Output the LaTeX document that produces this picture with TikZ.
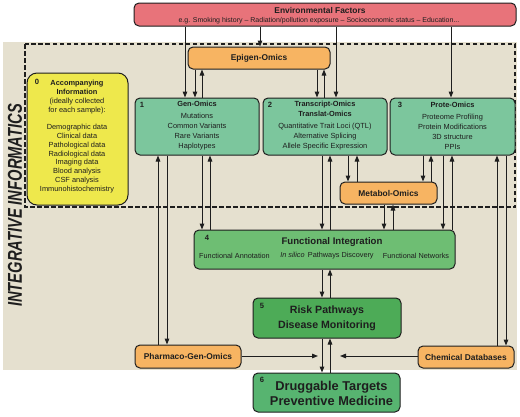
\documentclass[tikz,border=0pt]{standalone}
\usepackage{fontspec}
\setmainfont{Liberation Sans}
\usetikzlibrary{arrows.meta}
\definecolor{envred}{HTML}{E8737A}
\definecolor{bgbeige}{HTML}{E5E0CF}
\definecolor{orangebox}{HTML}{F7B462}
\definecolor{yellowbox}{HTML}{EEE84C}
\definecolor{mintbox}{HTML}{7CC69D}
\definecolor{funcgreen}{HTML}{6EBE73}
\definecolor{riskgreen}{HTML}{4DAB57}
\definecolor{druggreen}{HTML}{57B470}
\definecolor{ink}{HTML}{1E1E1E}
\begin{document}
\begin{tikzpicture}[x=1pt,y=-1pt,
 box/.style={draw=ink, line width=1pt, rounded corners=5pt, inner sep=0pt},
 obox/.style={box, fill=orangebox, font=\fontsize{8.4}{10}\selectfont\bfseries, text=ink},
 gbox/.style={box, fill=mintbox},
 lbl/.style={inner sep=0pt, text=ink, align=center},
 num/.style={inner sep=0pt, text=ink, font=\fontsize{7.6}{9}\selectfont\bfseries},
 arr/.style={draw=ink, line width=1pt, -{Triangle[length=6pt,width=4.6pt]}},
 dashedframe/.style={draw=ink, line width=1.1pt, dash pattern=on 4.5pt off 2.5pt}
]
\useasboundingbox (0,0) rectangle (520,416);
\fill[bgbeige] (3,42) rectangle (517,370);
\draw[dashedframe] (25,44) rectangle (515,207);

% rotated title
\node[inner sep=0pt, rotate=90, text=ink] (integ) at (15,205.5)
  {\scalebox{0.735}[1]{\fontsize{20}{20}\selectfont\bfseries\itshape INTEGRATIVE INFORMATICS}};

% environmental factors
\node[box, fill=envred, minimum width=382pt, minimum height=23pt] (env) at (325,14.5) {};
\node[lbl, font=\fontsize{8.4}{10}\selectfont\bfseries] (envt) at (320,10.5) {Environmental Factors};
\node[lbl, font=\fontsize{7}{9}\selectfont] (envs) at (319,20.5)
  {e.g. Smoking history -- Radiation/pollution exposure -- Socioeconomic status -- Education...};

% orange boxes
\node[obox, minimum width=142pt, minimum height=22pt] (epi) at (259,58) {Epigen-Omics};
\node[obox, minimum width=97pt, minimum height=22pt] (met) at (388.5,193) {Metabol-Omics};
\node[obox, minimum width=106pt, minimum height=23pt] (pha) at (188,356.5) {Pharmaco-Gen-Omics};
\node[obox, minimum width=96pt, minimum height=22pt] (che) at (466,357) {Chemical Databases};

% box 0
\node[box, rounded corners=10pt, fill=yellowbox, minimum width=101pt, minimum height=132pt] (acc) at (77.5,139) {};
\node[num] (acc0) at (37,82) {0};
\node[lbl, font=\fontsize{7.4}{8.8}\selectfont] (acct) at (77,136.5)
  {\textbf{Accompanying}\\\textbf{Information}\\(ideally collected\\for each sample):\\[8.8pt]
   Demographic data\\Clinical data\\Pathological data\\Radiological data\\Imaging data\\Blood analysis\\CSF analysis\\Immunohistochemistry};

% boxes 1-3
\node[gbox, minimum width=124pt, minimum height=57pt] (gen) at (197,126.5) {};
\node[num] (gen1) at (142,105) {1};
\node[lbl, font=\fontsize{7.4}{10}\selectfont] (gent) at (197,126)
  {\textbf{Gen-Omics}\\[2pt]Mutations\\Common Variants\\Rare Variants\\Haplotypes};

\node[gbox, minimum width=124pt, minimum height=57pt] (tra) at (325,126.5) {};
\node[num] (tra2) at (270,105) {2};
\node[lbl, font=\fontsize{7.4}{10}\selectfont] (trat) at (325,126)
  {\textbf{Transcript-Omics}\\\textbf{Translat-Omics}\\[2pt]Quantitative Trait Loci (QTL)\\Alternative Splicing\\Allele Specific Expression};

\node[gbox, minimum width=125pt, minimum height=57pt] (pro) at (452.5,126.5) {};
\node[num] (pro3) at (400,105) {3};
\node[lbl, font=\fontsize{7.4}{10}\selectfont] (prot) at (452.5,126)
  {\textbf{Prote-Omics}\\[2pt]Proteome Profiling\\Protein Modifications\\3D structure\\PPIs};

% box 4
\node[box, fill=funcgreen, minimum width=261pt, minimum height=39pt] (fun) at (324.5,249.5) {};
\node[num] (fun4) at (207,238) {4};
\node[lbl, font=\fontsize{9.6}{11}\selectfont\bfseries] (funt) at (332,242) {Functional Integration};
\node[lbl, font=\fontsize{7.3}{9}\selectfont] (funa) at (234.5,256) {Functional Annotation};
\node[lbl, font=\fontsize{7.3}{9}\selectfont] (funb) at (327,256) {\textit{In silico}\, Pathways Discovery};
\node[lbl, font=\fontsize{7.3}{9}\selectfont] (func) at (416,256) {Functional Networks};

% box 5
\node[box, fill=riskgreen, minimum width=148pt, minimum height=40pt] (risk) at (327,318) {};
\node[num] (risk5) at (262,306) {5};
\node[lbl, font=\fontsize{10.6}{15}\selectfont\bfseries] (riskt) at (327,318) {Risk Pathways\\Disease Monitoring};

% box 6
\node[box, fill=druggreen, minimum width=147pt, minimum height=39pt] (drug) at (326.5,392.5) {};
\node[num] (drug6) at (262,380) {6};
\node[lbl, font=\fontsize{12.8}{15}\selectfont\bfseries] (drugt) at (331.5,393.5) {Druggable Targets\\Preventive Medicine};

% vertical connectors, downward
\foreach \p/\q/\x in {env/gen/185, env/epi/260, env/tra/336, env/pro/451,
  epi/gen/195, epi/tra/317, gen/pha/167, gen/fun/202, tra/fun/322, tra/met/348,
  pro/met/423, pro/fun/443, pro/che/506, met/fun/384, fun/risk/322, risk/drug/322}{
  \coordinate (tmp) at (\x,0);
  \draw[arr] (\p.south -| tmp) -- (\q.north -| tmp);
}
% vertical connectors, upward
\foreach \p/\q/\x in {gen/epi/202, tra/epi/324, pha/gen/158, fun/gen/210, fun/tra/330,
  met/tra/357, met/pro/431, fun/pro/452, che/pro/497, fun/met/393, risk/fun/330, drug/risk/330}{
  \coordinate (tmp) at (\x,0);
  \draw[arr] (\p.north -| tmp) -- (\q.south -| tmp);
}
% horizontal connectors
\coordinate (pj) at (318,356);
\coordinate (cj) at (340,356);
\draw[arr] (pha.east |- pj) -- (pj);
\draw[arr] (che.west |- cj) -- (cj);
\end{tikzpicture}
\end{document}
